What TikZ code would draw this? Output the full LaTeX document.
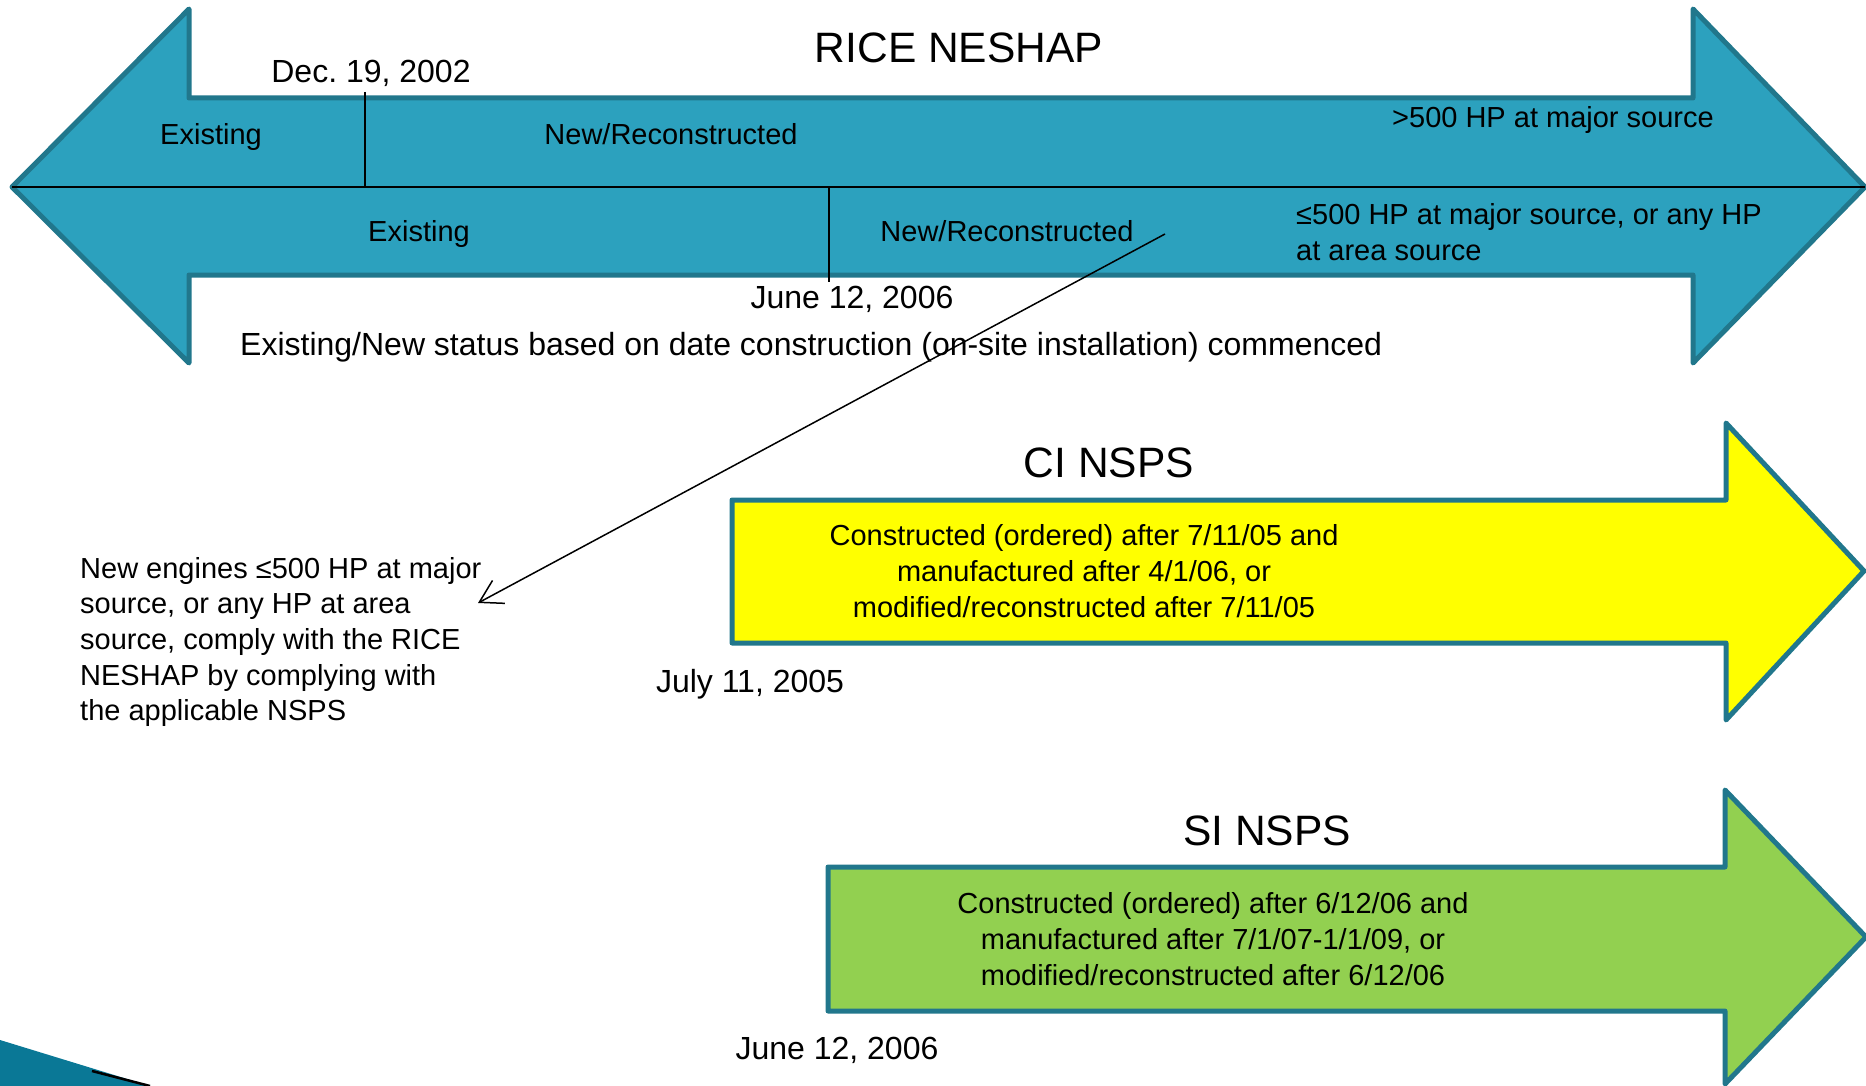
\documentclass[tikz,border=0pt]{standalone}
\usepackage{fontspec}
\setmainfont{Liberation Sans}
\usetikzlibrary{arrows.meta}
\frenchspacing

\definecolor{riceteal}{RGB}{44,161,190}
\definecolor{rimteal}{RGB}{33,119,140}
\definecolor{ciyellow}{RGB}{255,255,0}
\definecolor{sigreen}{RGB}{146,208,80}
\definecolor{cornerteal}{RGB}{10,120,150}

\begin{document}
\begin{tikzpicture}[
  x=1pt,y=-1pt,
  line join=round,
  band/.style={draw=rimteal,line width=5pt},
  tick/.style={line width=2pt},
  lbl/.style={inner sep=0pt,font=\fontsize{29}{35.7}\selectfont},
  datelbl/.style={inner sep=0pt,anchor=base,font=\fontsize{32}{38}\selectfont},
  ttl/.style={inner sep=0pt,anchor=base,font=\fontsize{42.5}{50}\selectfont},
  >={Straight Barb[length=22pt,width=26pt]}
]
  \useasboundingbox (0,0) rectangle (1866,1086);

  % RICE NESHAP double arrow, split along the middle.
  \filldraw[band,fill=riceteal] (12,187) -- (189,9) -- (189,98) -- (1693,98)
    -- (1693,9) -- (1865,187) -- (1693,363) -- (1693,275) -- (189,275)
    -- (189,363) -- cycle;
  \draw[tick] (12,187) -- (1865,187);
  \draw[tick] (365,92) -- (365,187);
  \draw[tick] (829,187) -- (829,282);

  % CI NSPS and SI NSPS arrows.
  \filldraw[band,fill=ciyellow] (732,500) -- (1726,500) -- (1726,423)
    -- (1864,571) -- (1726,720) -- (1726,643) -- (732,643) -- cycle;
  \filldraw[band,fill=sigreen] (828,867) -- (1725,867) -- (1725,790)
    -- (1866,937) -- (1725,1084) -- (1725,1011) -- (828,1011) -- cycle;

  % corner ornament of the slide
  \fill[cornerteal] (0,1040) -- (150,1086) -- (0,1086) -- cycle;
  \draw[line width=2.5pt] (92,1071) -- (150,1086);

  % titles
  \node[ttl] (rice) at (959,63) {RICE NESHAP};
  \node[ttl] (ci) at (1109,477) {CI NSPS};
  \node[ttl] (si) at (1267,845) {SI NSPS};

  % labels on the RICE NESHAP arrow
  \node[datelbl] (dec) at (371,83) {Dec. 19, 2002};
  \node[lbl,anchor=base] (exA) at (211,145) {Existing};
  \node[lbl,anchor=base] (newA) at (671,145) {New/Reconstructed};
  \node[lbl,anchor=base west] (big) at (1392,128) {>500 HP at major source};
  \node[lbl,anchor=base] (exB) at (419,241) {Existing};
  \node[lbl,anchor=base] (newB) at (1007,241) {New/Reconstructed};
  \node[lbl,anchor=west,align=left] (small) at (1296,232)
    {≤500 HP at major source, or any HP\\at area source};
  \node[datelbl] (jun) at (852,308) {June 12, 2006};
  \node[datelbl,anchor=base west] (basis) at (240,355)
    {Existing/New status based on date construction (on-site installation) commenced};

  % text in the NSPS arrows and their dates
  \node[lbl,align=center] (ciText) at (1084,571)
    {Constructed (ordered) after 7/11/05 and\\manufactured after 4/1/06, or\\modified/reconstructed after 7/11/05};
  \node[datelbl] (ciDate) at (750,692) {July 11, 2005};
  \node[lbl,align=center] (siText) at (1213,939)
    {Constructed (ordered) after 6/12/06 and\\manufactured after 7/1/07-1/1/09, or\\modified/reconstructed after 6/12/06};
  \node[datelbl] (siDate) at (837,1059) {June 12, 2006};

  % note and its pointer
  \node[lbl,anchor=west,align=left] (note) at (80,642)
    {New engines ≤500 HP at major\\source, or any HP at area\\source, comply with the RICE\\NESHAP by complying with\\the applicable NSPS};
  \coordinate (ptrFrom) at (1165,234);
  \coordinate (ptrTo) at (478,603);
  \draw[->,line width=1.5pt] (ptrFrom) -- (ptrTo);
\end{tikzpicture}
\end{document}
